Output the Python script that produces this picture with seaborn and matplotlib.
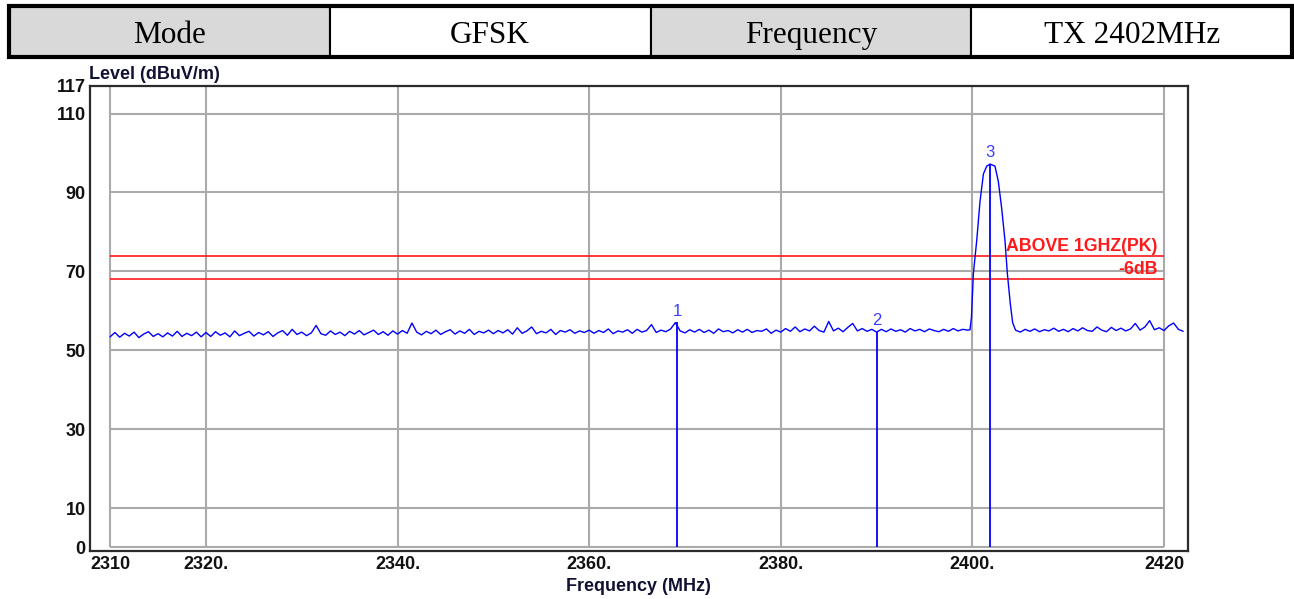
import numpy as np
import pandas as pd
import matplotlib
matplotlib.use("Agg")
import matplotlib.pyplot as plt
import seaborn as sns
from matplotlib.patches import Rectangle

# header table
table_cells = ["Mode", "GFSK", "Frequency", "TX 2402MHz"]
table_fill = ["#d9d9d9", "white", "#d9d9d9", "white"]

# noise floor 2310.0 .. 2399.5 MHz, 0.5 MHz sweep step
floor_left = [
    53.4, 54.5, 53.3, 54.3, 53.6, 54.6, 53.2, 54.1, 54.7, 53.5, 54.2, 53.4, 54.4, 53.6, 54.8, 53.5, 54.3, 53.7, 54.6, 53.4,
    54.5, 53.5, 54.7, 53.8, 54.4, 53.4, 54.9, 53.7, 54.3, 54.8, 53.6, 54.5, 53.9, 54.7, 53.5, 54.4, 55.0, 53.8, 55.3, 54.0,
    54.6, 53.7, 54.4, 56.3, 54.2, 53.8, 54.9, 54.0, 54.6, 53.7, 54.8, 54.1, 55.0, 53.9, 54.5, 55.1, 54.0, 54.7, 53.8, 54.9,
    54.1, 55.0, 54.3, 56.9, 54.6, 53.9, 54.8, 54.2, 55.1, 54.0, 54.7, 55.2, 54.1, 54.9, 54.3, 55.3, 54.0, 54.8, 54.4, 55.1,
    54.2, 55.0, 54.4, 55.2, 54.1, 55.7, 54.3, 54.9, 55.9, 54.2, 54.8, 54.4, 55.3, 54.0, 55.0, 54.6, 55.2, 54.3, 54.9, 54.5,
    55.1, 54.3, 55.0, 54.5, 55.4, 54.2, 54.9, 54.6, 55.2, 54.3, 55.3, 54.6, 55.0, 56.5, 54.5, 55.1, 54.7, 55.4, 57.0, 54.9,
    54.4, 55.2, 54.6, 55.3, 54.5, 55.1, 54.3, 55.4, 54.7, 55.0, 54.4, 55.2, 54.6, 55.3, 54.5, 55.0, 54.8, 55.4, 54.3, 55.1,
    54.6, 55.5, 54.8, 55.9, 54.7, 55.4, 54.9, 56.1, 55.0, 54.6, 57.3, 54.9, 55.6, 54.7, 55.8, 56.8, 54.9, 55.5, 54.8, 55.3,
    54.6, 55.3, 54.7, 55.4, 54.8, 55.2, 54.6, 55.5, 54.9, 55.3, 54.7, 55.4, 55.0, 54.7, 55.3, 54.8, 55.5, 54.9, 55.3, 55.1,
]

# carrier at 2402 MHz
peak_freq = [2399.75, 2399.9, 2400.1, 2400.45, 2400.8, 2401.15, 2401.5, 2401.85,
             2402.35, 2402.7, 2403.05, 2403.4, 2403.65, 2403.95, 2404.2]
peak_level = [55.2, 58.3, 69.4, 77.8, 87.9, 94.7, 96.7, 97.2,
              96.7, 92.9, 86.1, 77.8, 69.4, 61.9, 57.0]

# noise floor 2404.5 .. 2422.0 MHz
floor_right = [
    55.1, 54.6, 55.3, 54.8, 55.4, 54.7, 55.2, 54.9, 55.6, 54.8,
    55.3, 54.7, 55.5, 54.9, 55.7, 55.0, 54.8, 55.9, 55.1, 54.7,
    55.8, 55.0, 55.6, 54.9, 55.4, 56.8, 55.1, 55.9, 57.5, 55.2,
    55.7, 55.0, 56.2, 56.9, 55.3, 54.8,
]

marker_freq = [2369.2, 2390.0, 2401.84]
marker_level = [57.1, 54.6, 97.2]
marker_names = ["1", "2", "3"]

limit_level = [74, 68]
limit_names = ["ABOVE 1GHZ(PK)", "-6dB"]

x_ticks = [2310, 2320, 2340, 2360, 2380, 2400, 2420]
x_labels = ["2310", "2320.", "2340.", "2360.", "2380.", "2400.", "2420"]
y_ticks = [0, 10, 30, 50, 70, 90, 110, 117]
y_labels = ["0", "10", "30", "50", "70", "90", "110", "117"]

freq_left = 2310 + 0.5 * np.arange(len(floor_left))
freq_right = 2404.5 + 0.5 * np.arange(len(floor_right))
trace = pd.DataFrame({
    "freq": np.concatenate([freq_left, peak_freq, freq_right]),
    "level": floor_left + peak_level + floor_right,
})

sns.set_style("white")
plt.rcParams["font.family"] = ["Liberation Sans", "DejaVu Sans"]

fig = plt.figure(figsize=(12.94, 5.99), dpi=100)

# table on top
tab_ax = fig.add_axes([9 / 1294, 1 - 57 / 599, 1283 / 1294, 51 / 599])
tab_ax.axis("off")
tbl = tab_ax.table(cellText=[[""] * len(table_cells)], cellColours=[table_fill],
                   bbox=[0, 0, 1, 1])
for cell in tbl.get_celld().values():
    cell.set_linewidth(1.5)
    cell.set_edgecolor("black")
tab_ax.add_patch(Rectangle((0, 0), 1, 1, transform=tab_ax.transAxes, fill=False,
                           lw=3, edgecolor="black", clip_on=False))
for i, txt in enumerate(table_cells):
    tab_ax.text((i + 0.5) / len(table_cells), 0.265, txt, transform=tab_ax.transAxes,
                ha="center", va="baseline", fontsize=22.5, family="Liberation Serif",
                color="black")

# spectrum plot
ax = fig.add_axes([90 / 1294, 48 / 599, 1097.5 / 1294, 465 / 599])

grid_c = "#aaaaaa"
ax.vlines(x_ticks, 0, 117, colors=grid_c, lw=1.5, zorder=1)
ax.hlines(y_ticks[:-1], 2310, 2420, colors=grid_c, lw=1.5, zorder=1)

ax.hlines(limit_level, 2310, 2420, colors="#ff1a1a", lw=1.2, zorder=2)
for lvl, name in zip(limit_level, limit_names):
    ax.annotate(name, xy=(2420, lvl), xytext=(-4.5, 3.6), textcoords="offset points",
                ha="right", va="baseline", color="#ff1a1a", fontweight="bold", fontsize=12.8)

sns.lineplot(data=trace, x="freq", y="level", color="#0000ff", lw=1.0,
             estimator=None, sort=False, ax=ax, zorder=3)

ax.vlines(marker_freq, 0, marker_level, colors="#0000ff", lw=1.3, zorder=3)
for f, lvl, name in zip(marker_freq, marker_level, marker_names):
    ax.annotate(name, xy=(f, lvl), xytext=(0, 4.8), textcoords="offset points",
                ha="center", va="baseline", color="#3c3cff", fontsize=12)

ax.set_xlim(2307.9, 2422.45)
ax.set_ylim(-0.9, 117)
ax.set_xticks(x_ticks)
ax.set_xticklabels(x_labels, fontweight="bold", fontsize=13)
ax.set_yticks(y_ticks)
ax.set_yticklabels(y_labels, fontweight="bold", fontsize=13)
ax.tick_params(axis="x", length=0, pad=3.5, colors="#111111")
ax.tick_params(axis="y", length=0, pad=3.2, colors="#111111")

for sp in ax.spines.values():
    sp.set_linewidth(1.6)
    sp.set_color("#2b2b2b")

ax.set_xlabel("Frequency (MHz)", fontweight="bold", fontsize=13, labelpad=3.5, color="#111133")
ax.set_ylabel("")
ax.annotate("Level (dBuV/m)", xy=(0, 1), xycoords="axes fraction", xytext=(-0.5, 5),
            textcoords="offset points", ha="left", va="baseline",
            fontweight="bold", fontsize=13, color="#111133")

fig.savefig("out.png", dpi=100)
